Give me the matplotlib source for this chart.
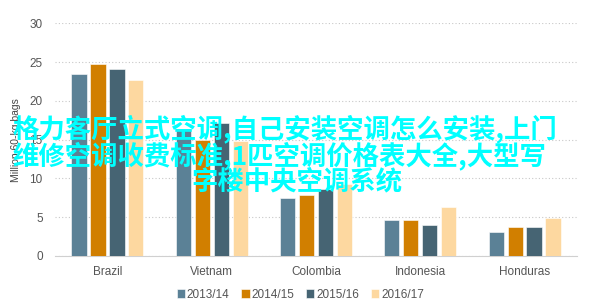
import numpy as np
import matplotlib.pyplot as plt

plt.rcParams['font.family'] = ['Liberation Sans', 'DejaVu Sans']

countries = ['Brazil', 'Vietnam', 'Colombia', 'Indonesia', 'Honduras']
seasons = ['2013/14', '2014/15', '2015/16', '2016/17']
v2013 = [23.5, 16.4, 7.5, 4.6, 3.1]
v2014 = [24.8, 15.0, 7.9, 4.6, 3.8]
v2015 = [24.1, 17.1, 8.6, 4.0, 3.8]
v2016 = [22.7, 14.8, 9.3, 6.3, 4.9]
colors = ['#5b8196', '#d17f00', '#466473', '#fdd8a0']

overlay_lines = ['格力客厅立式空调,自己安装空调怎么安装,上门',
	'维修空调收费标准,1匹空调价格表大全,大型写',
	'字楼中央空调系统']

fig = plt.figure(figsize=(5.94, 3.04), dpi=100)
ax = fig.add_axes([0.093, 0.158, 0.878, 0.765])

x = np.arange(len(countries))
step = 0.182
width = 0.146
for i, (vals, lab) in enumerate(zip([v2013, v2014, v2015, v2016], seasons)):
	ax.bar(x + (i - 1.5) * step, vals, width, color=colors[i], label=lab,
		edgecolor='white', linewidth=0.4, zorder=3)

ax.set_xlim(-0.5, len(countries) - 0.5)
ax.set_ylim(0, 30)
ax.set_yticks(range(0, 31, 5))
ax.set_xticks(x)
ax.set_xticklabels(countries)
ax.tick_params(axis='both', length=0, labelsize=8.5, colors='#555555', pad=9)
ax.tick_params(axis='x', pad=7)
ax.set_ylabel('Million 60-kg bags', fontsize=7.5, color='#444444', labelpad=6)

ax.grid(axis='y', color='#c8c8c8', linestyle=(0, (1, 2)), linewidth=0.8, zorder=0)
for s in ['top', 'right', 'left']:
	ax.spines[s].set_visible(False)
ax.spines['bottom'].set_color('#d0d0d0')

leg = ax.legend(loc='upper center', bbox_to_anchor=(0.47, -0.095), ncol=4, frameon=False,
	fontsize=8.5, handlelength=0.7, handleheight=0.7, handletextpad=0.15, columnspacing=1.0)
for t in leg.get_texts():
	t.set_color('#555555')

# overlay caption: first two lines flush left, last line centred
cjk = ['Noto Sans CJK SC', 'DejaVu Sans']
fig.text(12 / 594, 1 - 129 / 304, overlay_lines[0], ha='left', va='center', fontsize=19,
	color='#00ffff', family=cjk, fontweight='bold', zorder=10)
fig.text(12 / 594, 1 - 156 / 304, overlay_lines[1], ha='left', va='center', fontsize=19,
	color='#00ffff', family=cjk, fontweight='bold', zorder=10)
fig.text(0.5, 1 - 182 / 304, overlay_lines[2], ha='center', va='center', fontsize=19,
	color='#00ffff', family=cjk, fontweight='bold', zorder=10)

fig.savefig('out.png', dpi=100)
